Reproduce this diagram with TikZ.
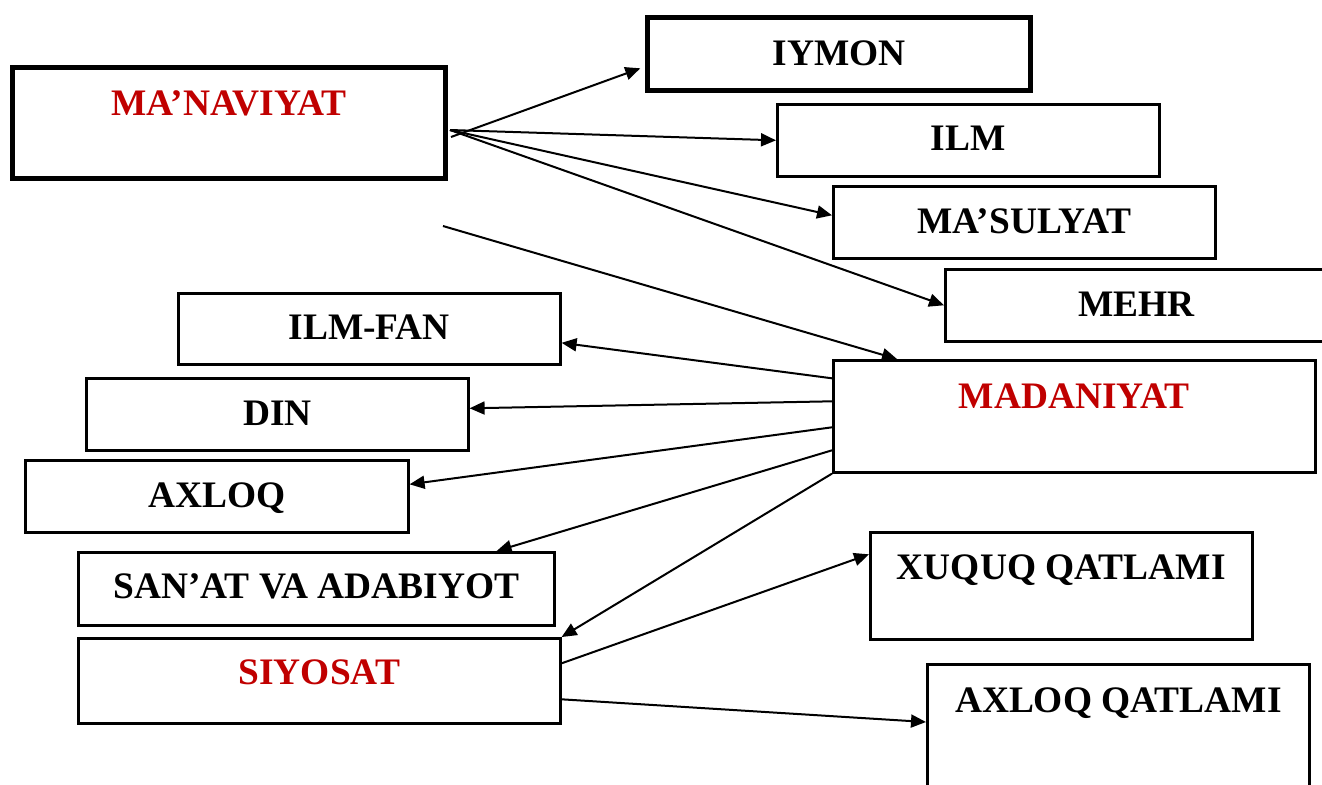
\documentclass[tikz,border=0pt]{standalone}
\usepackage{fontspec}
\setmainfont{Liberation Serif}
\usetikzlibrary{arrows.meta}
\definecolor{darkred}{RGB}{192,0,0}

\begin{document}
\begin{tikzpicture}[x=0.5pt,y=-0.5pt,->,>={Triangle[length=7.5pt,width=6.5pt]},line width=1pt,
    box/.style={draw,-,line width=1.3pt,anchor=north west,inner sep=0pt,minimum width=191pt,
      font=\bfseries\fontsize{18.7pt}{22pt}\selectfont},
    thickbox/.style={box,line width=2.6pt}]
  \useasboundingbox (0,0) rectangle (1322,784);
  \clip (0,0) rectangle (1322,784);
  \node[thickbox,minimum width=216.5pt,text height=24pt,text depth=31.5pt,text=darkred] (man) at (10,65) {MA’NAVIYAT};
  \node[thickbox,minimum width=191.5pt,text height=24pt,text depth=12.5pt] (iymon) at (645,15) {IYMON};
  \node[box,text height=23pt,text depth=13pt] (ilm) at (776,103) {ILM};
  \node[box,text height=23.5pt,text depth=12.5pt] (masul) at (832,185) {MA’SULYAT};
  \node[box,text height=23.5pt,text depth=12.5pt] (mehr) at (944,268) {MEHR};
  \node[box,text height=23pt,text depth=12.5pt] (ilmfan) at (177,292) {ILM-FAN};
  \node[box,text height=23.5pt,text depth=12.5pt] (din) at (85,377) {DIN};
  \node[box,minimum width=241pt,text height=24pt,text depth=32pt,text=darkred] (mad) at (832,359) {MADANIYAT};
  \node[box,minimum width=191.5pt,text height=23.5pt,text depth=12.5pt] (axloq) at (24,459) {AXLOQ};
  \node[box,minimum width=238pt,text height=23pt,text depth=13.5pt] (sanat) at (77,551) {SAN’AT VA ADABIYOT};
  \node[box,text height=23.5pt,text depth=30pt] (xuquq) at (869,531) {XUQUQ QATLAMI};
  \node[box,minimum width=241pt,text height=23pt,text depth=19.5pt,text=darkred] (siyosat) at (77,637) {SIYOSAT};
  \node[box,text height=24pt,text depth=44.5pt] (axqat) at (926,663) {AXLOQ QATLAMI};
  \coordinate (manout) at (450,130);
  \coordinate (manup) at (451,137);
  \coordinate (manlow) at (443,226);
  \draw[shorten >=2.5pt] (manup) -- ([yshift=-6.25pt]iymon.west);
  \draw (manout) -- (ilm.west);
  \draw (manout) -- ([yshift=3.5pt]masul.west);
  \draw (manout) -- (mehr.west);
  \draw (manlow) -- ([xshift=32.5pt]mad.north west);
  \draw ([yshift=19pt]mad.west) -- ([yshift=-7pt]ilmfan.east);
  \draw ([yshift=7.5pt]mad.west) -- ([yshift=3pt]din.east);
  \draw ([yshift=-5.5pt]mad.west) -- ([yshift=6pt]axloq.east);
  \draw ([yshift=-17pt]mad.west) -- ([xshift=-29.5pt]sanat.north east);
  \draw (mad.south west) -- (siyosat.north east);
  \draw ([yshift=8.75pt]siyosat.east) -- ([yshift=15.75pt]xuquq.west);
  \draw ([yshift=-9.25pt]siyosat.east) -- ([yshift=-29.5pt]axqat.north west);
\end{tikzpicture}
\end{document}
